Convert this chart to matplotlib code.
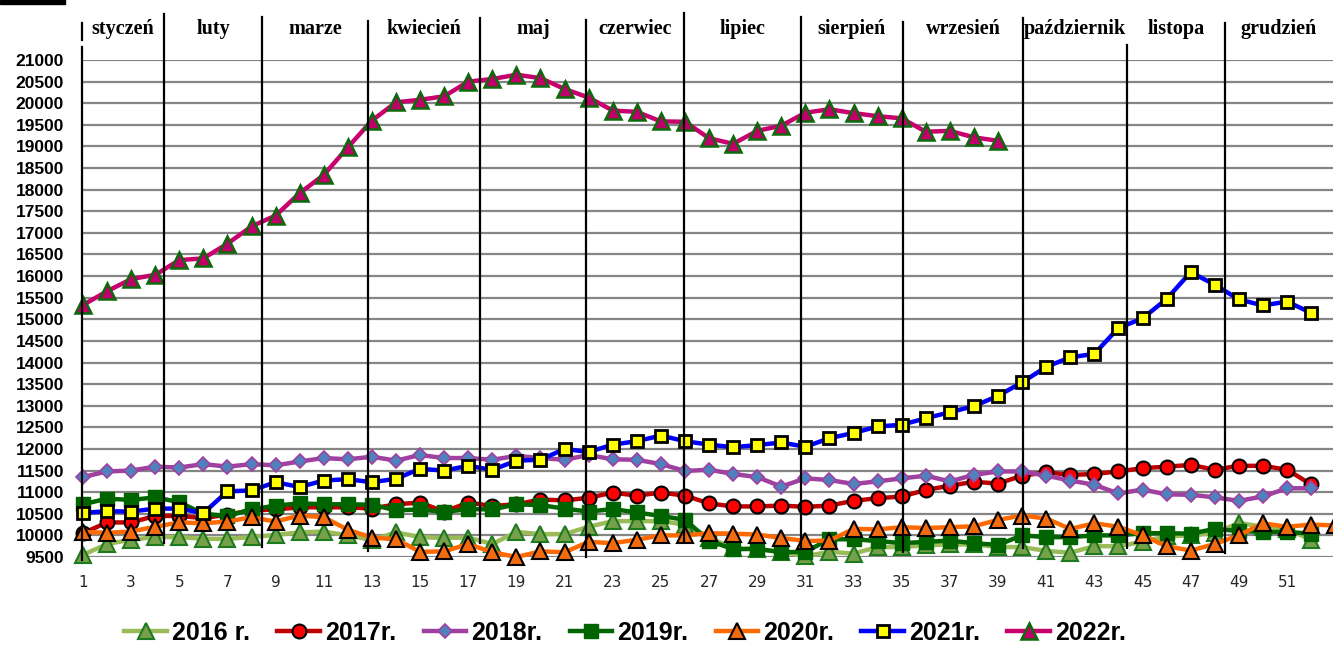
import matplotlib.pyplot as plt
import matplotlib.transforms as mtransforms
import numpy as np

# weekly values
weeks = np.arange(1, 54)
y2016 = [9550, 9800, 9900, 9960, 9960, 9920, 9920, 9960, 10010, 10070, 10090, 10000, 9890,
         10070, 9960, 9940, 9950, 9800, 10080, 10030, 10030, 10200, 10330, 10330, 10330, 10250,
         9950, 9700, 9680, 9620, 9520, 9620, 9580, 9730, 9730, 9770, 9790, 9790, 9730, 9730,
         9640, 9600, 9750, 9750, 9850, 9980, 10000, 10050, 10290, 10200, 10150, 9900]
y2017 = [10050, 10300, 10300, 10450, 10450, 10400, 10480, 10580, 10600, 10650, 10650, 10650, 10620,
         10720, 10760, 10550, 10760, 10680, 10720, 10830, 10810, 10870, 10990, 10920, 10990, 10920,
         10740, 10670, 10670, 10690, 10660, 10690, 10800, 10860, 10900, 11050, 11150, 11240, 11200,
         11380, 11460, 11400, 11420, 11480, 11555, 11590, 11630, 11520, 11610, 11610, 11520, 11180]
y2018 = [11350, 11480, 11500, 11590, 11570, 11650, 11590, 11650, 11620, 11710, 11790, 11760, 11820,
         11730, 11860, 11790, 11790, 11750, 11840, 11790, 11750, 11860, 11760, 11750, 11650, 11490,
         11520, 11420, 11350, 11130, 11320, 11280, 11190, 11250, 11320, 11380, 11250, 11400, 11480,
         11480, 11380, 11270, 11170, 10970, 11060, 10950, 10940, 10880, 10800, 10900, 11090, 11090]
y2019 = [10720, 10850, 10820, 10880, 10770, 10500, 10450, 10600, 10690, 10740, 10720, 10720, 10710,
         10580, 10600, 10540, 10610, 10600, 10720, 10700, 10620, 10550, 10610, 10530, 10450, 10360,
         9880, 9680, 9690, 9610, 9620, 9910, 9910, 9870, 9820, 9850, 9880, 9820, 9780, 10000,
         9960, 9960, 10000, 10000, 10050, 10050, 10040, 10150, 10100, 10080, 10080, 10040]
y2020 = [10080, 10060, 10090, 10200, 10300, 10280, 10320, 10420, 10320, 10460, 10420, 10130, 9950,
         9910, 9620, 9630, 9800, 9610, 9500, 9630, 9610, 9850, 9820, 9900, 10000, 10000, 10050,
         10040, 10020, 9940, 9870, 9880, 10150, 10140, 10190, 10170, 10190, 10210, 10360, 10460,
         10390, 10150, 10280, 10200, 10000, 9750, 9650, 9800, 10000, 10280, 10200, 10250, 10230]
y2021 = [10520, 10560, 10550, 10620, 10620, 10515, 11020, 11040, 11230, 11120, 11270, 11300, 11230,
         11310, 11540, 11500, 11610, 11515, 11730, 11750, 12000, 11930, 12100, 12180, 12310, 12180,
         12100, 12040, 12090, 12150, 12050, 12250, 12370, 12520, 12560, 12710, 12850, 12990, 13230,
         13540, 13900, 14120, 14200, 14800, 15020, 15470, 16090, 15800, 15460, 15320, 15410, 15150]
y2022 = [15330, 15650, 15930, 16030, 16370, 16410, 16750, 17150, 17400, 17920, 18340, 18980, 19600,
         20020, 20080, 20160, 20500, 20560, 20660, 20580, 20330, 20130, 19830, 19800, 19580, 19570,
         19190, 19060, 19360, 19480, 19780, 19860, 19770, 19700, 19650, 19340, 19360, 19210, 19130]

series_labels = ['2016 r.', '2017r.', '2018r.', '2019r.', '2020r.', '2021r.', '2022r.']
months = ['styczeń', 'luty', 'marze', 'kwiecień', 'maj', 'czerwiec', 'lipiec',
          'sierpień', 'wrzesień', 'październik', 'listopa', 'grudzień']
month_edges = [0.96, 4.38, 8.43, 12.84, 17.49, 21.89, 25.96, 30.82, 35.05, 40.04, 44.36, 48.43, 52.91]
edge_tops = [47, 14, 17, 21, 18, 20, 13, 17, 22, 18, 45, 23]
edge_bottoms = [560, 543, 547, 551, 543, 557, 542, 547, 552, 548, 548, 553]

W, H = 1333, 646
fig = plt.figure(figsize=(W / 100, H / 100), dpi=100)
ax = fig.add_axes([82 / W, 1 - 557 / H, 1 - 82 / W, (557 - 60) / H])

styles = [
    dict(color='#9bbb59', marker='^', ms=11, mfc='#77a04a', mec='#1e7a1e', mew=1.5),
    dict(color='#c00000', marker='o', ms=10, mfc='#ff0000', mec='black', mew=1.5),
    dict(color='#a040a0', marker='D', ms=7.5, mfc='#4f81bd', mec='#a040a0', mew=1.2),
    dict(color='#006600', marker='s', ms=10, mfc='#006400', mec='#006400', mew=1),
    dict(color='#ff6a00', marker='^', ms=11, mfc='#f26b0f', mec='black', mew=1.5),
    dict(color='#0000ff', marker='s', ms=9, mfc='#ffff00', mec='black', mew=2),
    dict(color='#c8006e', marker='^', ms=12, mfc='#c0006a', mec='#0b6b0b', mew=1.8),
]
data = [y2016, y2017, y2018, y2019, y2020, y2021, y2022]
for vals, lab, st in zip(data, series_labels, styles):
    ax.plot(weeks[:len(vals)], vals, lw=3.2, label=lab, clip_on=False, zorder=3, **st)

ax.set_xlim(month_edges[0], month_edges[-1])
ax.set_ylim(9500, 21000)
ax.set_yticks(np.arange(9500, 21001, 500))
ax.set_xticks(np.arange(1, 52, 2))
ax.grid(axis='y', color='#858585', lw=1.6)
ax.set_axisbelow(True)
for s in ax.spines.values():
    s.set_visible(False)
ax.tick_params(axis='both', length=0)
ax.tick_params(axis='y', pad=13)
ax.tick_params(axis='x', pad=13, labelcolor='#262626')
for t in ax.get_yticklabels():
    t.set_fontfamily('Liberation Sans')
    t.set_fontweight('bold')
    t.set_fontsize(12.5)
for t in ax.get_xticklabels():
    t.set_fontfamily('DejaVu Sans')
    t.set_fontsize(11)

# month separators and names
trans = mtransforms.blended_transform_factory(ax.transData, fig.transFigure)
for x, top, bot in zip(month_edges[:-1], edge_tops, edge_bottoms):
    ax.plot([x, x], [1 - top / H, 1 - bot / H], color='black', lw=1.6,
            transform=trans, clip_on=False, zorder=5)
ax.plot([month_edges[0]] * 2, [1 - 23 / H, 1 - 40 / H], color='black', lw=1.6,
        transform=trans, clip_on=False, zorder=5)
for i, m in enumerate(months):
    xm = (month_edges[i] + month_edges[i + 1]) / 2
    ax.text(xm, 1 - 29 / H, m, transform=trans, ha='center', va='center',
            fontfamily='Liberation Serif', fontweight='bold', fontsize=14.5)

fig.add_artist(plt.Rectangle((0, 1 - 4 / H), 65 / W, 4 / H, transform=fig.transFigure,
                             color='black'))

fig.legend(loc='center', bbox_to_anchor=(0.469, 1 - 633 / H), ncol=7, frameon=False,
           prop=dict(family='Liberation Sans', weight='bold', size=18),
           handlelength=1.7, handletextpad=0.2, columnspacing=1.1)

fig.savefig('out.png', dpi=100)
